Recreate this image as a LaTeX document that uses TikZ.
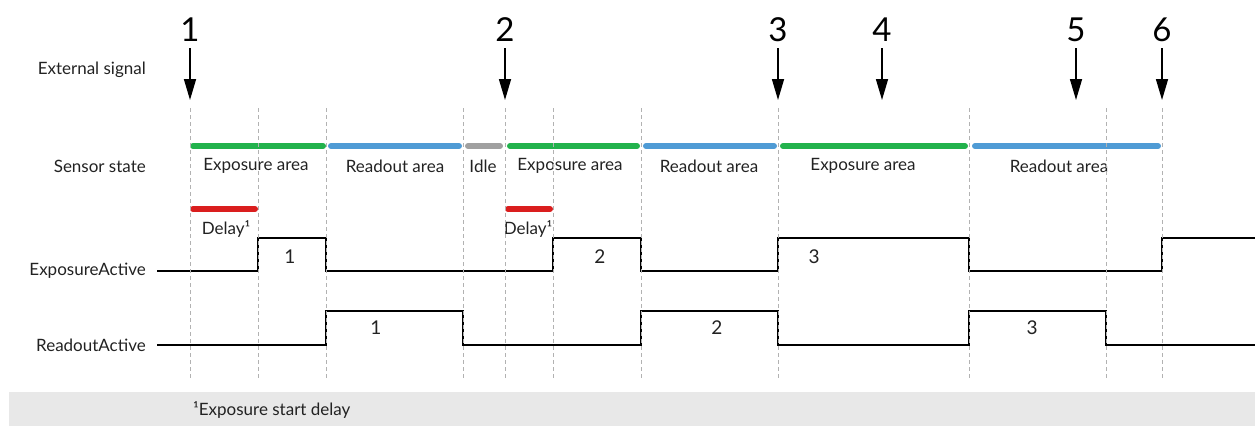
\documentclass[tikz,border=0pt]{standalone}
\usepackage{fontspec}
\setmainfont{Lato}
\usetikzlibrary{arrows.meta}
\definecolor{expcol}{RGB}{34,178,76}
\definecolor{rdcol}{RGB}{79,155,213}
\definecolor{idlecol}{RGB}{160,160,160}
\definecolor{delaycol}{RGB}{218,30,30}
\definecolor{notecol}{RGB}{232,232,232}
\definecolor{txtcol}{RGB}{34,34,34}

\begin{document}
\begin{tikzpicture}[
  x=1pt, y=-1pt,
  font=\fontsize{17}{19}\selectfont,
  lbl/.style={anchor=east, text=txtcol, inner sep=0pt},
  area/.style={text=txtcol, inner sep=0pt},
  bar/.style={line width=6pt, line cap=round},
  trig/.style={-{Triangle[length=21pt, width=12pt]}, line width=1.6pt},
  num/.style={font=\fontsize{33}{35}\selectfont, inner sep=0pt},
  cnt/.style={font=\fontsize{19}{21}\selectfont, text=txtcol, inner sep=0pt},
  wave/.style={line width=2.9pt},
  grid/.style={gray!60, line width=0.7pt, dash pattern=on 4pt off 3pt}
]
  \useasboundingbox (0,0) rectangle (1255,426);

  % footnote strip
  \fill[notecol] (9,392) rectangle (1255,426);
  \node[area, anchor=west] (note) at (193,410) {¹Exposure start delay};

  % row labels
  \node[lbl] (ext) at (146,70) {External signal};
  \node[lbl] (sen) at (146,166) {Sensor state};
  \node[lbl] (exa) at (146,271) {ExposureActive};
  \node[lbl] (rda) at (146,345) {ReadoutActive};

  % external trigger events
  \foreach \i/\x in {1/190, 2/505, 3/778, 4/882, 5/1076, 6/1162} {
    \node[num] (t\i) at (\x,30) {\i};
    \draw[trig] (\x,48) -- (\x,100);
  }

  % sensor state bars
  \foreach \a/\b/\c in {193/323/expcol, 331/459/rdcol, 468/500/idlecol,
                        510/637/expcol, 646/774/rdcol, 783/965/expcol,
                        975/1158/rdcol}
    \draw[bar, \c] (\a,146) -- (\b,146);
  \draw[bar, delaycol] (193,209) -- (255,209);
  \draw[bar, delaycol] (508,209) -- (550,209);

  \foreach \x/\t [count=\k] in {256/Exposure area, 395/Readout area, 483/Idle,
                     570/Exposure area, 709/Readout area,
                     863/Exposure area, 1059/Readout area}
    \node[area] (s\k) at (\x,166) {\t};
  \node[area] (d1) at (226,229) {Delay¹};
  \node[area] (d2) at (528,229) {Delay¹};

  % signals
  \draw[wave] (157,271) -- (258,271) -- (258,238) -- (326,238) -- (326,271)
    -- (553,271) -- (553,238) -- (641,238) -- (641,271) -- (778,271)
    -- (778,238) -- (969,238) -- (969,271) -- (1162,271) -- (1162,238)
    -- (1255,238);
  \draw[wave] (157,345) -- (326,345) -- (326,311) -- (463,311) -- (463,345)
    -- (641,345) -- (641,311) -- (778,311) -- (778,345) -- (969,345)
    -- (969,311) -- (1106,311) -- (1106,345) -- (1255,345);

  \foreach \x [count=\k] in {290,600,814}
    \node[cnt] (e\k) at (\x,257) {\k};
  \foreach \x [count=\k] in {376,717,1032}
    \node[cnt] (r\k) at (\x,328) {\k};

  % time markers
  \foreach \x in {190,258,326,463,505,553,641,778,969,1106,1162}
    \draw[grid] (\x,108) -- (\x,380);
\end{tikzpicture}
\end{document}
